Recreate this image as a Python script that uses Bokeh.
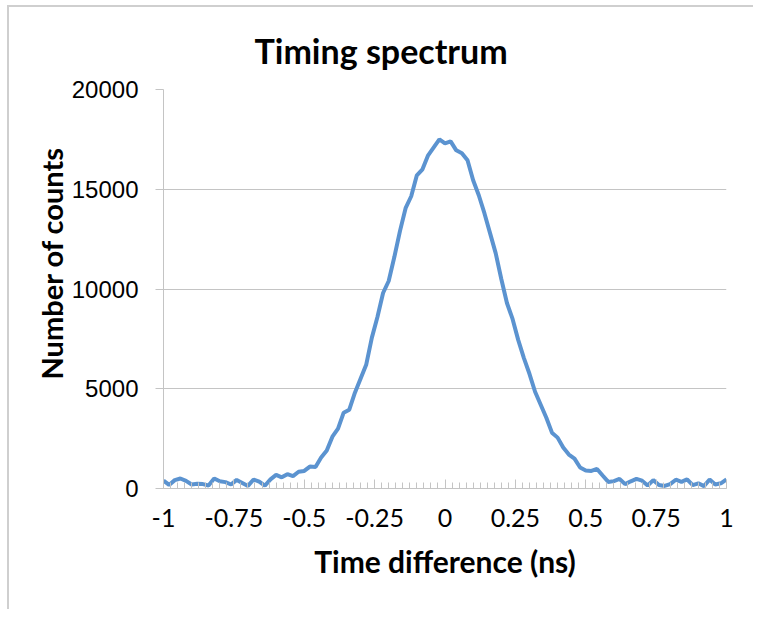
import math
from bokeh.plotting import figure
from bokeh.models import FixedTicker, Range1d, Title
from bokeh.embed import file_html
from bokeh.resources import INLINE

# Time difference (ns), step 0.02
time_ns = [round(-1 + 0.02 * i, 2) for i in range(101)]
counts = [
    400, 180, 420, 500, 380, 200, 240, 220, 150, 500,
    360, 320, 200, 430, 280, 130, 450, 340, 140, 460,
    680, 560, 720, 620, 840, 880, 1100, 1080, 1550, 1900,
    2600, 3000, 3800, 3950, 4800, 5500, 6200, 7550, 8600, 9800,
    10400, 11600, 12900, 14050, 14650, 15700, 16000, 16700, 17100, 17500,
    17300, 17400, 16950, 16800, 16450, 15450, 14700, 13800, 12800, 11800,
    10500, 9300, 8500, 7450, 6550, 5750, 4850, 4200, 3550, 2800,
    2550, 2050, 1700, 1500, 1050, 900, 880, 980, 650, 330,
    370, 480, 220, 360, 480, 390, 150, 420, 180, 130,
    220, 440, 330, 460, 170, 260, 120, 450, 200, 260,
    450,
]
x_ticks = [-1, -0.75, -0.5, -0.25, 0, 0.25, 0.5, 0.75, 1]
x_tick_labels = ["-1", "-0.75", "-0.5", "-0.25", "0", "0.25", "0.5", "0.75", "1"]
y_ticks = [0, 5000, 10000, 15000, 20000]
y_title = "Number of counts"

p = figure(width=746, height=604, output_backend="svg", toolbar_location=None,
           x_range=Range1d(-1, 1), y_range=Range1d(0, 20000),
           min_border_left=154, min_border_right=29, min_border_top=82, min_border_bottom=123,
           title="Timing spectrum")
p.styles = {"border-left": "2px solid #cfcfcf", "border-top": "2px solid #cfcfcf",
            "margin-left": "7px", "margin-top": "5px"}

p.title.text_font = "Lato"
p.title.text_font_size = "34px"
p.title.text_font_style = "bold"
p.title.text_color = "black"
p.title.align = "left"
p.title.offset = 86
p.title.vertical_align = "top"
p.title.standoff = 23
p.title.padding = 5

p.line(time_ns, counts, line_color="#5B93D0", line_width=4)

p.outline_line_color = None
p.xgrid.grid_line_color = None
p.ygrid.grid_line_color = "#c4c4c4"
p.ygrid.grid_line_width = 1

minor = [round(-1 + 0.025 * i, 3) for i in range(81)]
p.xaxis.ticker = FixedTicker(ticks=x_ticks, minor_ticks=minor)
p.xaxis.major_label_overrides = {t: l for t, l in zip(x_ticks, x_tick_labels)}
p.xaxis.axis_line_color = "#c4c4c4"
p.xaxis.major_tick_line_color = "#c4c4c4"
p.xaxis.minor_tick_line_color = "#c4c4c4"
p.xaxis.major_tick_in = 9
p.xaxis.major_tick_out = 0
p.xaxis.minor_tick_in = 6
p.xaxis.minor_tick_out = 0
p.xaxis.major_label_text_font = "Lato"
p.xaxis.major_label_text_font_size = "25px"
p.xaxis.major_label_text_color = "black"
p.xaxis.major_label_standoff = 20
p.xaxis.axis_label = "Time difference (ns)"
p.xaxis.axis_label_text_font = "Lato"
p.xaxis.axis_label_text_font_size = "30px"
p.xaxis.axis_label_text_font_style = "bold"
p.xaxis.axis_label_text_color = "black"
p.xaxis.axis_label_standoff = 13

p.yaxis.ticker = FixedTicker(ticks=y_ticks, minor_ticks=[])
p.yaxis.axis_line_color = "#c4c4c4"
p.yaxis.major_tick_line_color = "#c4c4c4"
p.yaxis.major_tick_in = 0
p.yaxis.major_tick_out = 8
p.yaxis.minor_tick_line_color = None
p.yaxis.major_label_text_font = "Liberation Sans"
p.yaxis.major_label_text_font_size = "24px"
p.yaxis.major_label_text_color = "black"
p.yaxis.major_label_standoff = 17

ytitle = Title(text=y_title, align="left", offset=109, standoff=0,
               text_font="Lato", text_font_size="29px", text_font_style="bold",
               text_color="black")
p.add_layout(ytitle, "left")

open("out.html", "w").write(file_html(p, INLINE))
